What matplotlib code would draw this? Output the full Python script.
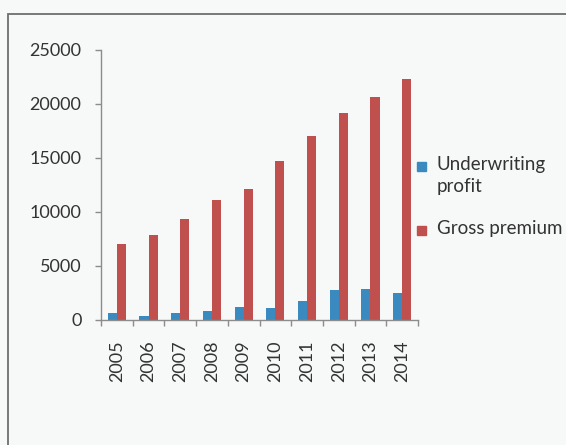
#!/usr/bin/env python3
"""
Underwriting profit vs gross premium, 2005-2014 (clustered column chart)
"""

import matplotlib
matplotlib.use('Agg')
import matplotlib.pyplot as plt
import matplotlib.patches as mpatches
import numpy as np

years = ['2005', '2006', '2007', '2008', '2009', '2010', '2011', '2012', '2013', '2014']
underwriting_profit = [560, 340, 560, 770, 1170, 1050, 1730, 2780, 2870, 2470]
gross_premium = [7040, 7870, 9290, 11050, 12130, 14660, 17000, 19170, 20680, 22280]
series_names = ['Underwriting\nprofit', 'Gross premium']
y_ticks = [0, 5000, 10000, 15000, 20000, 25000]

BLUE = '#3b8abf'
RED = '#c0504d'
TEXT = '#333333'
AXIS = '#8c8c8c'
BG = '#f7f8f8'

plt.rcParams['font.family'] = ['Lato', 'DejaVu Sans']

W, H = 566, 445
fig = plt.figure(figsize=(W / 100, H / 100), dpi=100, facecolor=BG)

# outer chart frame, cut off at the right and bottom edges
fig.patches.append(mpatches.Rectangle((8 / W, -0.1), 1.2, 1 - 14 / H + 0.1,
                                      transform=fig.transFigure, fill=False,
                                      edgecolor='#6e6e6e', linewidth=1.3))

ax = fig.add_axes([101 / W, 1 - 319.5 / H, (418 - 101) / W, (319.5 - 50) / H])
ax.set_facecolor('none')

x = np.arange(len(years))
width = 1 / 3.5
ax.bar(x - width / 2, underwriting_profit, width, color=BLUE, edgecolor='none')
ax.bar(x + width / 2, gross_premium, width, color=RED, edgecolor='none')

ax.set_xlim(-0.5, len(years) - 0.5)
ax.set_ylim(0, 25000)
ax.set_yticks(y_ticks)
ax.set_yticklabels([str(v) for v in y_ticks])

# ticks sit on category boundaries, labels at category centres
ax.set_xticks(np.arange(len(years) + 1) - 0.5)
ax.set_xticklabels([])
ax.set_xticks(x, minor=True)
ax.set_xticklabels(years, minor=True, rotation=90)
ax.tick_params(axis='x', which='major', direction='out', length=4, width=1, color=AXIS)
ax.tick_params(axis='x', which='minor', length=0, pad=15, labelsize=13, labelcolor=TEXT)
ax.tick_params(axis='y', direction='out', length=4, width=1, color=AXIS,
               pad=10, labelsize=13, labelcolor=TEXT)

for side in ['top', 'right']:
    ax.spines[side].set_visible(False)
for side in ['left', 'bottom']:
    ax.spines[side].set_color(AXIS)
    ax.spines[side].set_linewidth(1)

# legend to the right of the plot area
for (ypix, color), name in zip([(166, BLUE), (230, RED)], series_names):
    fig.patches.append(mpatches.Rectangle((417 / W, 1 - (ypix + 4.5) / H), 9 / W, 9 / H,
                                          transform=fig.transFigure, color=color))
    fig.text(437 / W, 1 - (ypix - 10) / H, name, color=TEXT, fontsize=13.5,
             ha='left', va='top', linespacing=1.35)

plt.savefig('out.png', dpi=100, facecolor=BG)
plt.close()
